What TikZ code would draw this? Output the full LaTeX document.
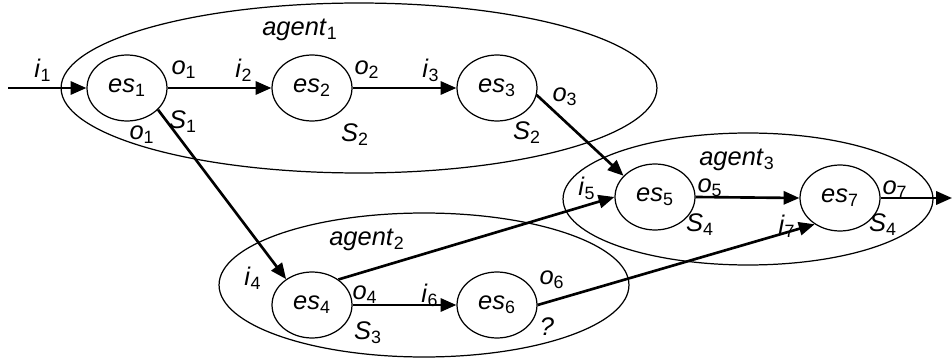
\documentclass[tikz,border=0pt]{standalone}
\usepackage{fontspec}
\setmainfont{Liberation Sans}
\usetikzlibrary{shapes.geometric,arrows.meta}
\newcommand\lbl[2]{\textit{#1}\textsubscript{#2}}
\tikzset{
  esbox/.style={ellipse,draw,line width=0.7pt,minimum width=1.6cm,minimum height=1.32cm,inner sep=0pt},
  agentbox/.style={ellipse,draw,line width=0.7pt,inner sep=0pt},
  conn/.style={line width=1.5pt,-{Triangle[length=9pt,width=7.5pt]}},
  tx/.style={inner sep=0pt,font=\fontsize{14.5}{17}\selectfont}
}
\begin{document}
\begin{tikzpicture}[x=0.02cm,y=-0.02cm,font=\fontsize{14.5}{17}\selectfont]
\useasboundingbox (0,0) rectangle (952,361);
% agents
\node[agentbox,minimum width=11.92cm,minimum height=3.4cm] (ag1) at (359,88) {};
\node[agentbox,minimum width=7.4cm,minimum height=2.64cm] (ag3) at (748,199) {};
\node[agentbox,minimum width=8.2cm,minimum height=2.88cm] (ag2) at (424,285) {};
% states
\node[esbox] (es1) at (127,88) {\lbl{es}{1}};
\node[esbox] (es2) at (312,88) {\lbl{es}{2}};
\node[esbox] (es3) at (497,88) {\lbl{es}{3}};
\node[esbox] (es4) at (312,305) {\lbl{es}{4}};
\node[esbox] (es6) at (497,305) {\lbl{es}{6}};
\node[esbox] (es5) at (655,197) {\lbl{es}{5}};
\node[esbox] (es7) at (840,198) {\lbl{es}{7}};
\coordinate (in) at (8,88);
\coordinate (out) at (952,198);
% connectors
\draw[conn] (in) -- (es1.west);
\draw[conn] (es1.east) -- (es2.west);
\draw[conn] (es2.east) -- (es3.west);
\draw[conn] (es1.-35) -- (es4.135);
\draw[conn] (es3.-10) -- (es5.146);
\draw[conn] (es4.44) -- (es5.west);
\draw[conn] (es4.east) -- (es6.west);
\draw[conn] (es6.east) -- (es7.226);
\draw[conn] (es5.east) -- (es7.west);
\draw[conn] (es7.east) -- (out);
% labels
\node[tx] (la1) at (300,30) {\lbl{agent}{1}};
\node[tx] (la2) at (367,240) {\lbl{agent}{2}};
\node[tx] (la3) at (737,160) {\lbl{agent}{3}};
\node[tx] (li1) at (43,70) {\lbl{i}{1}};
\node[tx] (lo1) at (184,70) {\lbl{o}{1}};
\node[tx] (li2) at (244,70) {\lbl{i}{2}};
\node[tx] (lo2) at (367,70) {\lbl{o}{2}};
\node[tx] (li3) at (431,70) {\lbl{i}{3}};
\node[tx] (lo3) at (565,97) {\lbl{o}{3}};
\node[tx] (lS1) at (183,122) {\lbl{S}{1}};
\node[tx] (lo1b) at (142,135) {\lbl{o}{1}};
\node[tx] (lS2) at (355,135) {\lbl{S}{2}};
\node[tx] (lS2b) at (527,133) {\lbl{S}{2}};
\node[tx] (li5) at (587,188) {\lbl{i}{5}};
\node[tx] (lo5) at (710,188) {\lbl{o}{5}};
\node[tx] (lS4) at (700,225) {\lbl{S}{4}};
\node[tx] (li7) at (787,226) {\lbl{i}{7}};
\node[tx] (lo7) at (895,190) {\lbl{o}{7}};
\node[tx] (lS4b) at (883,225) {\lbl{S}{4}};
\node[tx] (li4) at (253,278) {\lbl{i}{4}};
\node[tx] (lo4) at (365,295) {\lbl{o}{4}};
\node[tx] (li6) at (430,295) {\lbl{i}{6}};
\node[tx] (lo6) at (552,280) {\lbl{o}{6}};
\node[tx] (lS3) at (368,333) {\lbl{S}{3}};
\node[tx] (lq) at (547,327) {\textit{?}};
\end{tikzpicture}
\end{document}
